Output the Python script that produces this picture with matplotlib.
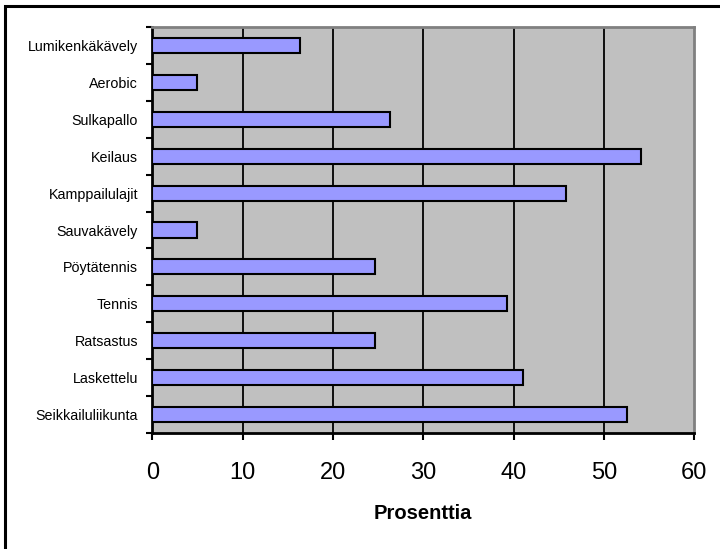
import numpy as np
import matplotlib.pyplot as plt
from matplotlib.patches import Rectangle
from matplotlib.ticker import FixedLocator

plt.rcParams['font.family'] = ['Liberation Sans', 'DejaVu Sans']

# lajit ylhäältä alas ja osuudet prosentteina
lajit = ['Lumikenkäkävely', 'Aerobic', 'Sulkapallo', 'Keilaus', 'Kamppailulajit',
         'Sauvakävely', 'Pöytätennis', 'Tennis', 'Ratsastus', 'Laskettelu',
         'Seikkailuliikunta']
prosentit = [16.3, 4.9, 26.3, 54.1, 45.8, 4.9, 24.6, 39.3, 24.6, 41.0, 52.6]
xticks = [0, 10, 20, 30, 40, 50, 60]

fig = plt.figure(figsize=(7.2, 5.49), dpi=100)
ax = fig.add_axes([0.2118, 0.2113, 0.7521, 0.7395])

n = len(lajit)
y = np.arange(n)[::-1]
ax.set_facecolor('#C0C0C0')
ax.barh(y, prosentit, height=0.41, color='#9999FF', edgecolor='black',
        linewidth=1.5, zorder=3)

ax.set_xlim(0, 60)
ax.set_ylim(-0.5, n - 0.5)
ax.set_xticks(xticks)
ax.set_xticklabels([str(t) for t in xticks], fontsize=17)
ax.tick_params(axis='x', direction='out', length=5, width=1.5, pad=16)

# nimet kategorioiden keskelle, tikit kategorioiden väleihin
ax.set_yticks(y)
ax.set_yticklabels(lajit, fontsize=10.3)
ax.tick_params(axis='y', which='major', length=0, pad=10.5)
ax.yaxis.set_minor_locator(FixedLocator(np.arange(n + 1) - 0.5))
ax.tick_params(axis='y', which='minor', direction='out', length=4, width=1.5)

for t in xticks[1:-1]:
    ax.axvline(t, color='black', lw=1.3, zorder=1)

for s in ['left', 'bottom']:
    ax.spines[s].set_color('black')
    ax.spines[s].set_linewidth(2)
for s in ['top', 'right']:
    ax.spines[s].set_color('#808080')
    ax.spines[s].set_linewidth(2)

ax.set_xlabel('Prosenttia', fontsize=14.5, fontweight='bold', labelpad=14)

# kaavion ulkoreunus
fig.patches.append(Rectangle((5 / 720, -0.1), 1.2, 1 - 6 / 549 + 0.1,
                             transform=fig.transFigure, fill=False,
                             edgecolor='black', linewidth=2.2))

fig.savefig('out.png', dpi=100)
